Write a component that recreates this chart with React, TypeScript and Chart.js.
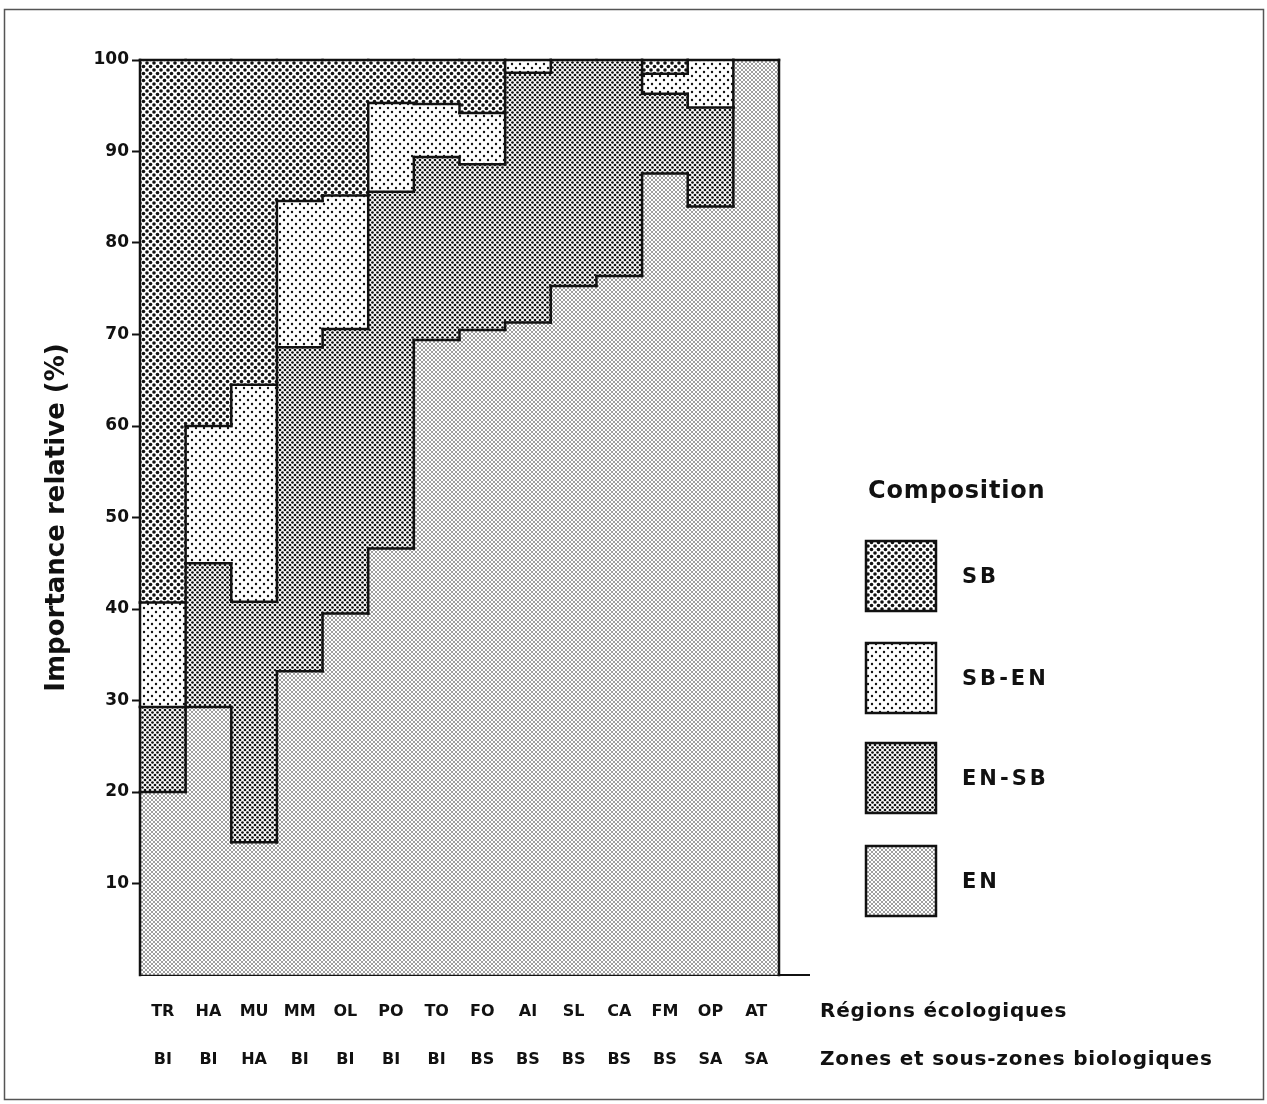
import { useEffect, useRef } from 'react';
import { Chart, registerables } from 'chart.js';

Chart.register(...registerables);

// Ecological regions (first label row) and biological zones (second label row)
const regions = ['TR', 'HA', 'MU', 'MM', 'OL', 'PO', 'TO', 'FO', 'AI', 'SL', 'CA', 'FM', 'OP', 'AT'];
const zones = ['BI', 'BI', 'HA', 'BI', 'BI', 'BI', 'BI', 'BS', 'BS', 'BS', 'BS', 'BS', 'SA', 'SA'];

// Composition classes, stacked bottom to top
const seriesNames = ['EN', 'EN-SB', 'SB-EN', 'SB'];
const enValues = [20, 29.3, 14.5, 33.2, 39.5, 46.6, 69.4, 70.5, 71.3, 75.3, 76.4, 87.6, 84, 100];
const enSbValues = [9.3, 15.7, 26.3, 35.4, 31.1, 39, 20, 18.1, 27.3, 24.7, 23.6, 8.7, 10.8, 0];
const sbEnValues = [11.4, 15, 23.7, 16, 14.6, 9.7, 5.8, 5.6, 1.4, 0, 0, 2.2, 5.2, 0];
const sbValues = [59.3, 40, 35.5, 15.4, 14.8, 4.7, 4.8, 5.8, 0, 0, 0, 1.5, 0, 0];

const yTickValues = [10, 20, 30, 40, 50, 60, 70, 80, 90, 100];

const FONT = '"DejaVu Sans", sans-serif';
const INK = '#111';

// Halftone-like dot texture used as a bar fill
function dotPattern(period: number, radius: number): CanvasPattern | string {
  const tile = document.createElement('canvas');
  tile.width = period;
  tile.height = period;
  const g = tile.getContext('2d');
  if (!g) return '#999';
  g.fillStyle = '#fff';
  g.fillRect(0, 0, period, period);
  g.fillStyle = INK;
  const pts = [
    [0, 0], [period, 0], [0, period], [period, period], [period / 2, period / 2],
  ];
  for (const [x, y] of pts) {
    g.beginPath();
    g.arc(x, y, radius, 0, Math.PI * 2);
    g.fill();
  }
  return g.createPattern(tile, 'repeat') || '#999';
}

const LABEL_PAD = 13;
const LABEL_LINE = 48;

// Draws the black outlines between composition zones, the legend and side captions
const decorPlugin = {
  id: 'decor',
  afterDatasetsDraw(chart: any) {
    const ctx = chart.ctx as CanvasRenderingContext2D;
    const yScale = chart.scales.y;
    const datasets = chart.data.datasets;
    const n = chart.data.labels.length;
    const eps = 1e-6;

    const cols: { a: number; b: number; d: number }[][] = [];
    const xl: number[] = [];
    const xr: number[] = [];
    for (let c = 0; c < n; c++) {
      let acc = 0;
      const segs: { a: number; b: number; d: number }[] = [];
      datasets.forEach((ds: any, d: number) => {
        const v = ds.data[c] as number;
        if (v > eps) {
          segs.push({ a: acc, b: acc + v, d });
          acc += v;
        }
      });
      cols.push(segs);
      const el = chart.getDatasetMeta(0).data[c];
      xl.push(el.x - el.width / 2);
      xr.push(el.x + el.width / 2);
    }

    ctx.save();
    ctx.strokeStyle = INK;
    ctx.lineWidth = 2.5;
    ctx.lineCap = 'square';

    // horizontal boundaries (top of every segment)
    for (let c = 0; c < n; c++) {
      for (const s of cols[c]) {
        const py = yScale.getPixelForValue(s.b);
        ctx.beginPath();
        ctx.moveTo(xl[c], py);
        ctx.lineTo(xr[c], py);
        ctx.stroke();
      }
    }

    // vertical boundaries where neighbouring columns differ
    const find = (segs: { a: number; b: number; d: number }[] | null, v: number) => {
      if (!segs) return -1;
      for (const s of segs) if (v >= s.a && v <= s.b) return s.d;
      return -1;
    };
    for (let c = 0; c <= n; c++) {
      const left = c > 0 ? cols[c - 1] : null;
      const right = c < n ? cols[c] : null;
      const x = c < n ? xl[c] : xr[n - 1];
      const edges = new Set<number>([0, 100]);
      [left, right].forEach((segs) => segs && segs.forEach((s) => { edges.add(+s.a.toFixed(4)); edges.add(+s.b.toFixed(4)); }));
      const list = Array.from(edges).sort((p, q) => p - q);
      for (let i = 0; i < list.length - 1; i++) {
        const e0 = list[i];
        const e1 = list[i + 1];
        if (e1 - e0 < eps) continue;
        const mid = (e0 + e1) / 2;
        if (find(left, mid) !== find(right, mid)) {
          ctx.beginPath();
          ctx.moveTo(x, yScale.getPixelForValue(e0));
          ctx.lineTo(x, yScale.getPixelForValue(e1));
          ctx.stroke();
        }
      }
    }

    // baseline runs a little past the last column
    const area = chart.chartArea;
    ctx.lineWidth = 2;
    ctx.beginPath();
    ctx.moveTo(area.right, area.bottom);
    ctx.lineTo(area.right + 30, area.bottom);
    ctx.stroke();
    ctx.restore();
  },
  afterDraw(chart: any) {
    const ctx = chart.ctx as CanvasRenderingContext2D;
    const datasets = chart.data.datasets;
    const xScale = chart.scales.x;
    ctx.save();

    // outer frame
    ctx.strokeStyle = '#555';
    ctx.lineWidth = 1.5;
    ctx.strokeRect(4.5, 9.5, 1259, 1090);

    // legend
    ctx.fillStyle = INK;
    ctx.textBaseline = 'middle';
    ctx.textAlign = 'left';
    ctx.font = `bold 24px ${FONT}`;
    (ctx as any).letterSpacing = '0.8px';
    ctx.fillText('Composition', 868, 492);

    const boxTops = [541, 643, 743, 846];
    const order = [3, 2, 1, 0];
    ctx.font = `bold 21px ${FONT}`;
    (ctx as any).letterSpacing = '3px';
    order.forEach((d, i) => {
      const top = boxTops[i];
      ctx.fillStyle = datasets[d].backgroundColor;
      ctx.fillRect(866, top, 70, 70);
      ctx.strokeStyle = INK;
      ctx.lineWidth = 2.5;
      ctx.strokeRect(866, top, 70, 70);
      ctx.fillStyle = INK;
      ctx.fillText(datasets[d].label, 962, top + 37);
    });

    // captions for the two label rows
    (ctx as any).letterSpacing = '0.8px';
    ctx.font = `bold 20px ${FONT}`;
    const row0 = xScale.top + LABEL_PAD + LABEL_LINE / 2;
    ctx.fillText('Régions écologiques', 820, row0);
    ctx.fillText('Zones et sous-zones biologiques', 820, row0 + LABEL_LINE);
    ctx.restore();
  },
};

export default function App() {
  const canvasRef = useRef<HTMLCanvasElement | null>(null);

  useEffect(() => {
    const canvas = canvasRef.current;
    if (!canvas) return;

    const fills = [
      dotPattern(4, 0.75),  // EN
      dotPattern(5, 1.35),  // EN-SB
      dotPattern(8, 1.2),   // SB-EN
      dotPattern(7, 1.8),   // SB
    ];
    const values = [enValues, enSbValues, sbEnValues, sbValues];

    const chart = new Chart(canvas, {
      type: 'bar',
      data: {
        labels: regions.map((r, i) => [r, zones[i]]),
        datasets: seriesNames.map((name, i) => ({
          label: name,
          data: values[i],
          backgroundColor: fills[i] as any,
          borderWidth: 0,
          barPercentage: 1,
          categoryPercentage: 1,
        })),
      },
      options: {
        animation: false,
        responsive: false,
        layout: { padding: { top: 60, right: 488, bottom: 0, left: 0 } },
        plugins: {
          legend: { display: false },
          tooltip: { enabled: false },
        },
        scales: {
          x: {
            stacked: true,
            grid: { display: false, drawTicks: false },
            border: { display: true, color: INK, width: 2 },
            ticks: {
              color: INK,
              font: { family: FONT, size: 16, weight: 'bold', lineHeight: LABEL_LINE / 16 },
              padding: LABEL_PAD,
              maxRotation: 0,
              autoSkip: false,
            },
            afterFit: (scale: any) => { scale.height = 129; },
          },
          y: {
            stacked: true,
            min: 0,
            max: 100,
            afterBuildTicks: (scale: any) => {
              scale.ticks = [0, ...yTickValues].map((v) => ({ value: v }));
            },
            grid: {
              drawOnChartArea: false,
              tickLength: 8,
              tickWidth: 2,
              tickColor: (c: any) => (c.tick && c.tick.value === 0 ? 'rgba(0,0,0,0)' : INK),
            },
            border: { display: true, color: INK, width: 2 },
            ticks: {
              color: INK,
              padding: 3,
              font: { family: FONT, size: 17, weight: 'bold' },
              callback: (v: any) => (Number(v) === 0 ? '' : String(v)),
            },
            title: {
              display: true,
              text: 'Importance relative (%)',
              color: INK,
              font: { family: FONT, size: 26, weight: 'bold' },
              padding: { top: 42, bottom: 0 },
            },
            afterFit: (scale: any) => { scale.width = 140; },
          },
        },
      },
      plugins: [decorPlugin],
    });

    return () => chart.destroy();
  }, []);

  return (
    <div style={{ position: 'fixed', left: 0, top: 0, width: 1267, height: 1104, background: '#fff' }}>
      <canvas ref={canvasRef} width={1267} height={1104} style={{ display: 'block' }} />
    </div>
  );
}
